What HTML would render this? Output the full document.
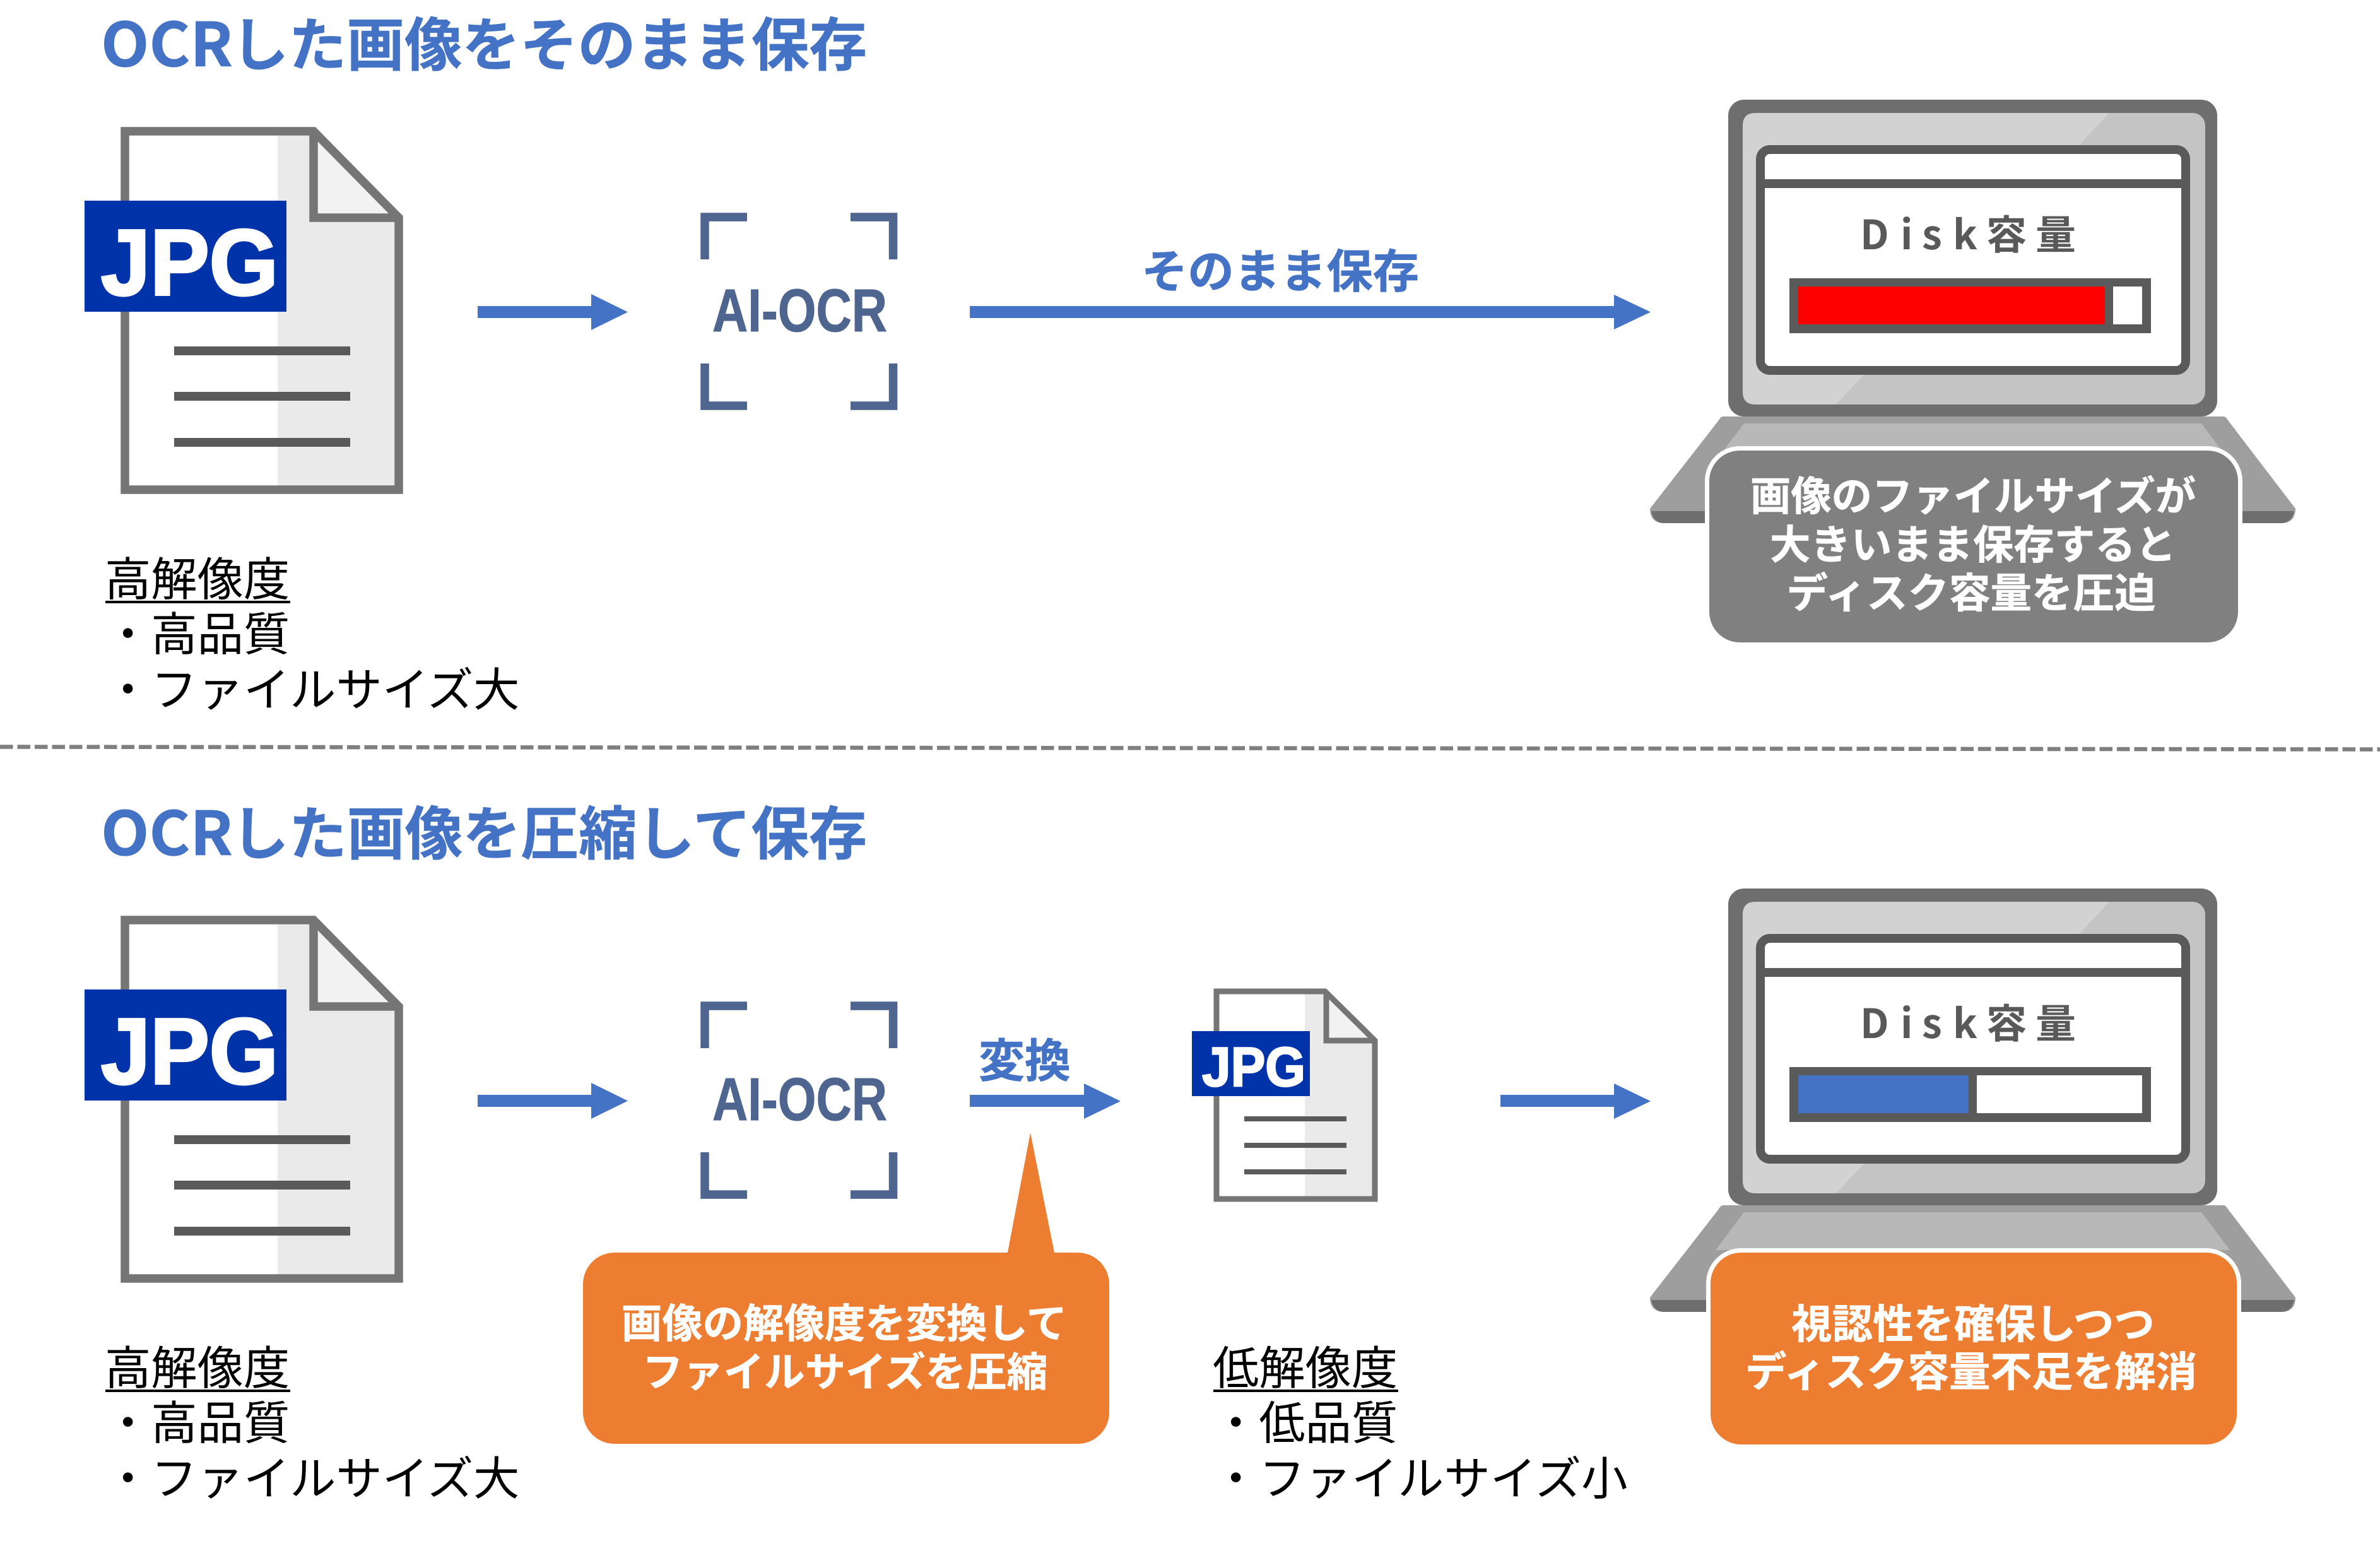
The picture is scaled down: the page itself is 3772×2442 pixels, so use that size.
<!DOCTYPE html>
<html><head><meta charset="utf-8"><style>
html,body{margin:0;padding:0;background:#fff}
svg{display:block}
text{font-family:"Noto Sans CJK JP","Liberation Sans",sans-serif;text-rendering:geometricPrecision}
.t{font-weight:700;fill:#4472c4;stroke:#4472c4;stroke-width:.6}
.b{font-weight:700;fill:#fff;font-size:64.400px;text-anchor:middle;stroke:#fff;stroke-width:.6}
.w{font-size:65.500px}
.l{font-size:73.300px;fill:#000;font-weight:400}
.j{font-family:"Liberation Sans",sans-serif;font-weight:700;fill:#fff;stroke:#fff}
.a{font-family:"Liberation Sans",sans-serif;font-weight:700;fill:#4e6590;stroke:#4e6590;stroke-width:1;font-size:96px}
.d{font-weight:700;fill:#595959;font-size:64px}
</style></head><body>
<svg xmlns="http://www.w3.org/2000/svg" width="3772" height="2442" viewBox="0 0 3772 2442">
<rect width="3772" height="2442" fill="#fff"/>

<!-- Top section -->
<text class="t" x="160" y="105" font-size="96" textLength="209" lengthAdjust="spacingAndGlyphs">OCR</text>
<text class="t" x="366" y="104" font-size="92" textLength="1008" lengthAdjust="spacingAndGlyphs">した画像をそのまま保存</text>

<g>
<path d="M198 208H497L632 345V776H198Z" fill="#fff"/>
<path d="M440 208H497L632 345V776H440Z" fill="#eaeaea"/>
<path d="M497 208L632 345H497Z" fill="#f2f2f2"/>
<path d="M198 208H497L632 345V776H198Z M497 208V345H632" fill="none" stroke="#757575" stroke-width="13.500"/>
<rect x="276" y="549" width="279" height="14" fill="#5a5a5a"/>
<rect x="276" y="621" width="279" height="14" fill="#5a5a5a"/>
<rect x="276" y="694" width="279" height="14" fill="#5a5a5a"/>
<rect x="134" y="318" width="320" height="176" fill="#0033aa"/>
<text class="j" x="160" y="467" font-size="148" stroke-width="4" textLength="281" lengthAdjust="spacingAndGlyphs">JPG</text>
</g>
<text class="l" x="166" y="944">高解像度</text>
<rect x="167" y="952" width="293" height="4" fill="#000"/>
<text class="l" x="166" y="1031">・高品質</text>
<text class="l" x="166" y="1119">・ファイルサイズ大</text>

<path d="M757 485H937V466L995 494.500L937 523V504H757Z" fill="#4472c4"/>
<path d="M1117 411V344H1184 M1348 344H1415.500V411 M1117 576V643H1184 M1348 643H1415.500V576" fill="none" stroke="#4e6590" stroke-width="13.500"/>
<text class="a" x="1129" y="525" textLength="277" lengthAdjust="spacingAndGlyphs">AI-OCR</text>

<text class="t" x="1809" y="456" font-size="73.300" textLength="440" lengthAdjust="spacingAndGlyphs">そのまま保存</text>
<path d="M1537 485H2558V467L2616 494.500L2558 522V504H1537Z" fill="#4472c4"/>

<!-- laptop top -->
<g>
<path d="M2731 660H3524Q3528 660 3531 666L3638 806Q3638 829 3615 829H2638Q2615 829 2615 806L2724 666Q2727 660 2731 660Z" fill="#9e9e9e"/>
<path d="M2617 810H3636Q3632 829 3615 829H2638Q2621 829 2617 810Z" fill="#6e6e6e"/>
<path d="M2764 671H3489L3534 731H2719Z" fill="#b8b8b8"/>
<rect x="2739" y="158" width="775" height="502" rx="25" fill="#6e6e6e"/>
<rect x="2762" y="179" width="733" height="462" rx="20" fill="#c4c4c4"/>
<path d="M2782 179H3343L2910 641H2782Q2762 641 2762 621V199Q2762 179 2782 179Z" fill="#d2d2d2"/>
<rect x="2783" y="230" width="688" height="364" rx="22" fill="#5a5a5a"/>
<rect x="2797" y="244" width="660" height="336" rx="8" fill="#fff"/>
<rect x="2797" y="284" width="660" height="14" fill="#5a5a5a"/>
<text class="d" x="2948 3012 3046 3095 3148 3226" y="395">Disk容量</text>
<rect x="2836" y="441" width="573" height="87" fill="#5a5a5a"/>
<rect x="2850" y="454" width="486" height="60" fill="#ff0000"/>
<rect x="3349" y="454" width="46" height="60" fill="#fff"/>
<rect x="2705.500" y="710.500" width="845" height="311" rx="52" fill="#808080" stroke="#fff" stroke-width="7"/>
<text class="b" x="3127" y="809">画像のファイルサイズが</text>
<text class="b" x="3127" y="886">大きいまま保存すると</text>
<text class="b w" x="3124" y="963">ディスク容量を圧迫</text>
</g>

<!-- Divider -->
<line x1="0" y1="1183.500" x2="3772" y2="1187.500" stroke="#7f7f7f" stroke-width="6.500" stroke-dasharray="20.500 7"/>

<!-- Bottom section -->
<text class="t" x="160" y="1355" font-size="96" textLength="209" lengthAdjust="spacingAndGlyphs">OCR</text>
<text class="t" x="366" y="1354" font-size="92" textLength="1008" lengthAdjust="spacingAndGlyphs">した画像を圧縮して保存</text>

<g transform="translate(0 1250)">
<path d="M198 208H497L632 345V776H198Z" fill="#fff"/>
<path d="M440 208H497L632 345V776H440Z" fill="#eaeaea"/>
<path d="M497 208L632 345H497Z" fill="#f2f2f2"/>
<path d="M198 208H497L632 345V776H198Z M497 208V345H632" fill="none" stroke="#757575" stroke-width="13.500"/>
<rect x="276" y="549" width="279" height="14" fill="#5a5a5a"/>
<rect x="276" y="621" width="279" height="14" fill="#5a5a5a"/>
<rect x="276" y="694" width="279" height="14" fill="#5a5a5a"/>
<rect x="134" y="318" width="320" height="176" fill="#0033aa"/>
<text class="j" x="160" y="467" font-size="148" stroke-width="4" textLength="281" lengthAdjust="spacingAndGlyphs">JPG</text>
<path d="M757 485H937V466L995 494.500L937 523V504H757Z" fill="#4472c4"/>
<path d="M1117 411V344H1184 M1348 344H1415.500V411 M1117 576V643H1184 M1348 643H1415.500V576" fill="none" stroke="#4e6590" stroke-width="13.500"/>
<text class="a" x="1129" y="525" textLength="277" lengthAdjust="spacingAndGlyphs">AI-OCR</text>
</g>
<text class="l" x="166" y="2194">高解像度</text>
<rect x="167" y="2202" width="293" height="4" fill="#000"/>
<text class="l" x="166" y="2281">・高品質</text>
<text class="l" x="166" y="2369">・ファイルサイズ大</text>

<text class="t" x="1551" y="1707" font-size="73.300" textLength="146" lengthAdjust="spacingAndGlyphs">変換</text>
<path d="M1537 1735H1718V1717L1776 1745L1718 1773V1754H1537Z" fill="#4472c4"/>

<!-- callout -->
<path d="M1596 1990L1633 1795L1672 1990Z" fill="#ed7d31"/>
<rect x="924" y="1985" width="834" height="303" rx="50" fill="#ed7d31"/>
<text class="b" x="1338" y="2120">画像の解像度を変換して</text>
<text class="b" x="1339" y="2197">ファイルサイズを圧縮</text>

<!-- small file -->
<path d="M1928 1571H2100L2179 1649V1900H1928Z" fill="#fff"/>
<path d="M2068 1571H2100L2179 1649V1900H2068Z" fill="#eaeaea"/>
<path d="M2102 1571L2179 1649H2102Z" fill="#f2f2f2"/>
<path d="M1928 1571H2100L2179 1649V1900H1928Z M2102 1571V1649H2179" fill="none" stroke="#757575" stroke-width="9"/>
<rect x="1972" y="1769" width="162" height="8" fill="#5a5a5a"/>
<rect x="1972" y="1811" width="162" height="8" fill="#5a5a5a"/>
<rect x="1972" y="1853" width="162" height="8" fill="#5a5a5a"/>
<rect x="1889" y="1634" width="187" height="103" fill="#0033aa"/>
<text class="j" x="1905" y="1721" font-size="88" stroke-width="2.500" textLength="164" lengthAdjust="spacingAndGlyphs">JPG</text>
<text class="l" x="1922" y="2194">低解像度</text>
<rect x="1923" y="2202" width="293" height="4" fill="#000"/>
<text class="l" x="1922" y="2281">・低品質</text>
<text class="l" x="1922" y="2369">・ファイルサイズ小</text>

<path d="M2378 1735H2558V1717L2616 1745L2558 1773V1754H2378Z" fill="#4472c4"/>

<!-- laptop bottom -->
<g transform="translate(0 1250)">
<path d="M2731 660H3524Q3528 660 3531 666L3638 806Q3638 829 3615 829H2638Q2615 829 2615 806L2724 666Q2727 660 2731 660Z" fill="#9e9e9e"/>
<path d="M2617 810H3636Q3632 829 3615 829H2638Q2621 829 2617 810Z" fill="#6e6e6e"/>
<path d="M2764 671H3489L3534 731H2719Z" fill="#b8b8b8"/>
<rect x="2739" y="158" width="775" height="502" rx="25" fill="#6e6e6e"/>
<rect x="2762" y="179" width="733" height="462" rx="20" fill="#c4c4c4"/>
<path d="M2782 179H3343L2910 641H2782Q2762 641 2762 621V199Q2762 179 2782 179Z" fill="#d2d2d2"/>
<rect x="2783" y="230" width="688" height="364" rx="22" fill="#5a5a5a"/>
<rect x="2797" y="244" width="660" height="336" rx="8" fill="#fff"/>
<rect x="2797" y="284" width="660" height="14" fill="#5a5a5a"/>
<text class="d" x="2948 3012 3046 3095 3148 3226" y="395">Disk容量</text>
<rect x="2836" y="441" width="573" height="87" fill="#5a5a5a"/>
<rect x="2850" y="454" width="270" height="60" fill="#4472c4"/>
<rect x="3133" y="454" width="262" height="60" fill="#fff"/>
<rect x="2707.500" y="731.500" width="841" height="311" rx="52" fill="#ed7d31" stroke="#fff" stroke-width="7"/>
<text class="b" x="3127" y="871">視認性を確保しつつ</text>
<text class="b w" x="3124" y="947">ディスク容量不足を解消</text>
</g>
</svg>
</body></html>
